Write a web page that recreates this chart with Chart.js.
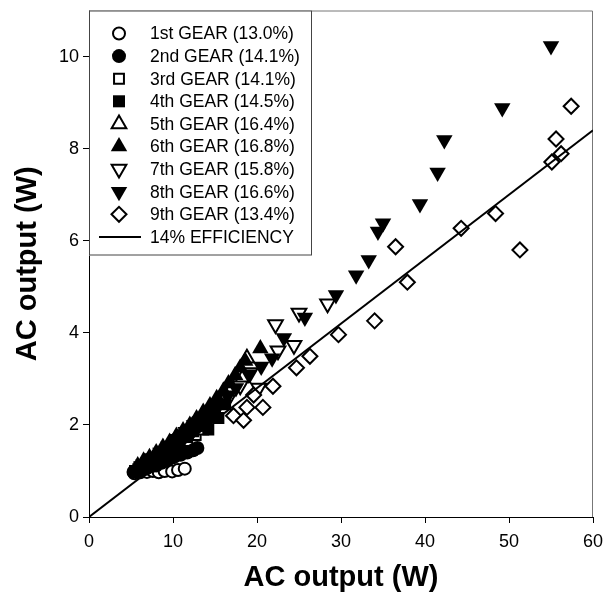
<!DOCTYPE html>
<html>
<head>
<meta charset="utf-8">
<script src="https://cdn.jsdelivr.net/npm/chart.js@4.4.1/dist/chart.umd.min.js"></script>
<style>
  html, body { margin: 0; padding: 0; background: #fff; }
  #wrap { width: 605px; height: 605px; }
</style>
</head>
<body>
<div id="wrap"><canvas id="chart" width="605" height="605"></canvas></div>
<script>
// --- DATA ---
const gearLabels = [
  '1st GEAR (13.0%)', '2nd GEAR (14.1%)', '3rd GEAR (14.1%)',
  '4th GEAR (14.5%)', '5th GEAR (16.4%)', '6th GEAR (16.8%)',
  '7th GEAR (15.8%)', '8th GEAR (16.6%)', '9th GEAR (13.4%)'
];
const fitLabel = '14% EFFICIENCY';

const gear1X = [5.4, 6.1, 6.9, 7.6, 8.3, 9.0, 9.9, 10.6, 11.4];
const gear1Y = [0.95, 0.97, 0.98, 1.0, 0.97, 1.0, 0.99, 1.02, 1.05];
const gear2X = [5.3, 5.7, 6.2, 6.8, 7.4, 8.0, 8.7, 9.4, 10.1, 10.9, 11.7, 12.4, 12.9];
const gear2Y = [0.98, 1.02, 1.0, 1.05, 1.1, 1.12, 1.18, 1.25, 1.3, 1.35, 1.4, 1.45, 1.5];
const gear3X = [5.5, 6.2, 7.0, 7.9, 8.8, 9.7, 10.7, 11.7, 12.7, 13.6];
const gear3Y = [1.0, 1.05, 1.12, 1.2, 1.3, 1.4, 1.52, 1.65, 1.78, 1.9];
const gear4X = [5.5, 6.0, 6.6, 7.2, 7.9, 8.6, 9.3, 10.0, 10.8, 11.6, 12.4, 13.2, 14.0, 14.2, 14.8, 15.4, 16.2];
const gear4Y = [1.0, 1.08, 1.12, 1.2, 1.27, 1.34, 1.42, 1.52, 1.62, 1.74, 1.86, 1.98, 2.1, 1.9, 2.2, 2.15, 2.45];
const gear5X = [5.8, 6.8, 7.8, 8.9, 10.0, 11.1, 12.3, 13.5, 14.7, 15.9, 17.1, 18.3, 18.8];
const gear5Y = [1.05, 1.15, 1.28, 1.43, 1.6, 1.77, 1.97, 2.17, 2.38, 2.6, 2.82, 3.02, 3.45];
const gear6X = [5.8, 6.5, 7.2, 8.0, 8.8, 9.6, 10.4, 11.2, 12.0, 12.8, 13.6, 14.4, 15.2, 16.0, 16.6, 17.4, 18.0, 18.6, 20.4];
const gear6Y = [1.12, 1.22, 1.3, 1.4, 1.52, 1.63, 1.76, 1.88, 2.0, 2.14, 2.28, 2.42, 2.58, 2.74, 2.9, 3.08, 3.24, 3.39, 3.66];
const gear7X = [6.2, 7.4, 8.6, 9.8, 11.0, 12.3, 13.6, 15.0, 16.5, 18.0, 19.2, 20.2, 22.5, 24.4, 22.2, 25.0, 28.4];
const gear7Y = [1.05, 1.18, 1.33, 1.5, 1.68, 1.87, 2.08, 2.3, 2.55, 2.85, 3.14, 2.8, 3.61, 3.73, 4.18, 4.43, 4.63];
const gear8X = [6.5, 7.5, 8.5, 9.5, 10.5, 11.5, 12.5, 13.5, 14.5, 15.5, 16.5, 17.5, 19.0, 20.5, 21.8, 23.2, 25.7, 29.4, 31.8, 33.3, 34.4, 35.0, 39.4, 41.5, 42.3, 49.2, 55.0];
const gear8Y = [1.15, 1.28, 1.4, 1.55, 1.7, 1.85, 2.0, 2.15, 2.3, 2.45, 2.62, 2.8, 3.1, 3.27, 3.45, 3.89, 4.33, 4.82, 5.25, 5.58, 6.2, 6.38, 6.8, 7.48, 8.19, 8.88, 10.23];
const gear9X = [17.2, 18.4, 18.8, 19.6, 20.7, 21.9, 24.7, 26.3, 29.7, 34.0, 36.5, 37.9, 44.3, 48.4, 51.3, 55.1, 56.2, 55.6, 57.4];
const gear9Y = [2.2, 2.1, 2.38, 2.65, 2.38, 2.84, 3.24, 3.49, 3.96, 4.26, 5.87, 5.1, 6.27, 6.59, 5.8, 7.71, 7.89, 8.21, 8.92];

const fitX = [0, 60];
const fitY = [0, 8.4];

const xTicks = [0, 10, 20, 30, 40, 50, 60];
const yTicks = [0, 2, 4, 6, 8, 10];

// --- MARKER STYLES ---
const gearXs = [gear1X, gear2X, gear3X, gear4X, gear5X, gear6X, gear7X, gear8X, gear9X];
const gearYs = [gear1Y, gear2Y, gear3Y, gear4Y, gear5Y, gear6Y, gear7Y, gear8Y, gear9Y];
const markerStyle = ['circle', 'circle', 'rect', 'rect', 'triangle', 'triangle', 'triangle', 'triangle', 'rectRot'];
const markerRot = [0, 0, 0, 0, 0, 0, 180, 180, 0];
const markerFilled = [false, true, false, true, false, true, false, true, false];
const markerSize = [6, 7, 7, 8.5, 8.5, 9.5, 8.5, 9.5, 7.5];
// draw order: lower number ends up on top
const drawOrder = [9, 5, 8, 4, 7, 3, 6, 2, 1];

const pts = (xs, ys) => xs.map((x, i) => ({ x: x, y: ys[i] }));

const datasets = gearLabels.map((label, i) => ({
  label: label,
  data: pts(gearXs[i], gearYs[i]),
  pointStyle: markerStyle[i],
  pointRadius: markerSize[i],
  pointHoverRadius: markerSize[i],
  pointRotation: markerRot[i],
  backgroundColor: markerFilled[i] ? '#000' : '#fff',
  borderColor: '#000',
  borderWidth: markerFilled[i] ? 0 : 2,
  order: drawOrder[i]
}));

datasets.push({
  label: fitLabel,
  data: pts(fitX, fitY),
  showLine: true,
  borderColor: '#000',
  borderWidth: 2,
  pointRadius: 0,
  fill: false,
  order: 0
});

// --- PLUGINS ---
const frame = {
  id: 'frame',
  beforeDatasetsDraw(chart) {
    const { ctx, chartArea: a } = chart;
    ctx.save();
    ctx.strokeStyle = '#777';
    ctx.lineWidth = 1;
    ctx.beginPath();
    ctx.moveTo(a.left, a.top + 0.5);
    ctx.lineTo(a.right - 0.5, a.top + 0.5);
    ctx.lineTo(a.right - 0.5, a.bottom);
    ctx.stroke();
    ctx.restore();
  }
};

const boxLegend = {
  id: 'boxLegend',
  afterDraw(chart) {
    const { ctx, chartArea: a } = chart;
    const left = a.left, top = a.top, w = 223, h = 245;
    const rowH = 22.6, firstRow = 23;
    ctx.save();
    ctx.fillStyle = '#fff';
    ctx.fillRect(left, top, w, h);
    ctx.strokeStyle = '#444';
    ctx.lineWidth = 1;
    ctx.strokeRect(left + 0.5, top + 0.5, w - 1, h - 1);

    ctx.font = '17.5px "Liberation Sans", Arial, sans-serif';
    ctx.textBaseline = 'middle';
    ctx.textAlign = 'left';
    const items = chart.data.datasets;
    items.forEach((ds, i) => {
      const y = top + firstRow + i * rowH;
      const mx = left + 30;
      ctx.fillStyle = ds.backgroundColor || '#000';
      ctx.strokeStyle = '#000';
      if (ds.showLine) {
        ctx.lineWidth = 2;
        ctx.beginPath();
        ctx.moveTo(left + 10, y);
        ctx.lineTo(left + 52, y);
        ctx.stroke();
      } else {
        ctx.lineWidth = ds.borderWidth;
        Chart.helpers.drawPoint(ctx, {
          pointStyle: ds.pointStyle,
          rotation: ds.pointRotation,
          radius: ds.pointRadius,
          borderWidth: ds.borderWidth
        }, mx, y);
      }
      ctx.fillStyle = '#000';
      ctx.fillText(ds.label, left + 61, y + 1);
    });
    ctx.restore();
  }
};

// --- CHART ---
const tickFont = { family: '"Liberation Sans", Arial, sans-serif', size: 18 };
const titleFont = { family: '"Liberation Sans", Arial, sans-serif', size: 29, weight: 'bold', lineHeight: 1.2 };

new Chart(document.getElementById('chart').getContext('2d'), {
  type: 'scatter',
  data: { datasets: datasets },
  options: {
    responsive: false,
    animation: false,
    layout: { padding: { top: 6, right: 12, left: 0, bottom: 0 } },
    plugins: { legend: { display: false }, tooltip: { enabled: false } },
    scales: {
      x: {
        type: 'linear',
        min: 0, max: 60,
        afterFit: (s) => { s.height = 88; s.paddingLeft = 0; s.paddingRight = 0; },
        afterBuildTicks: (s) => { s.ticks = xTicks.map(v => ({ value: v })); },
        ticks: { font: tickFont, color: '#000', padding: 8, maxRotation: 0 },
        grid: { drawOnChartArea: false, drawTicks: true, tickLength: 6, color: '#000' },
        border: { display: true, color: '#000', width: 1 },
        title: { display: true, text: 'AC output (W)', font: titleFont, color: '#000', padding: { top: 0, bottom: 10 } }
      },
      y: {
        type: 'linear',
        min: 0, max: 11,
        afterFit: (s) => { s.width = 89; s.paddingTop = 0; s.paddingBottom = 0; },
        afterBuildTicks: (s) => { s.ticks = yTicks.map(v => ({ value: v })); },
        ticks: { font: tickFont, color: '#000', padding: 4 },
        grid: { drawOnChartArea: false, drawTicks: true, tickLength: 6, color: '#000' },
        border: { display: true, color: '#000', width: 1 },
        title: { display: true, text: 'AC output (W)', font: titleFont, color: '#000', padding: { top: 11, bottom: 0 } }
      }
    }
  },
  plugins: [frame, boxLegend]
});
</script>
</body>
</html>
